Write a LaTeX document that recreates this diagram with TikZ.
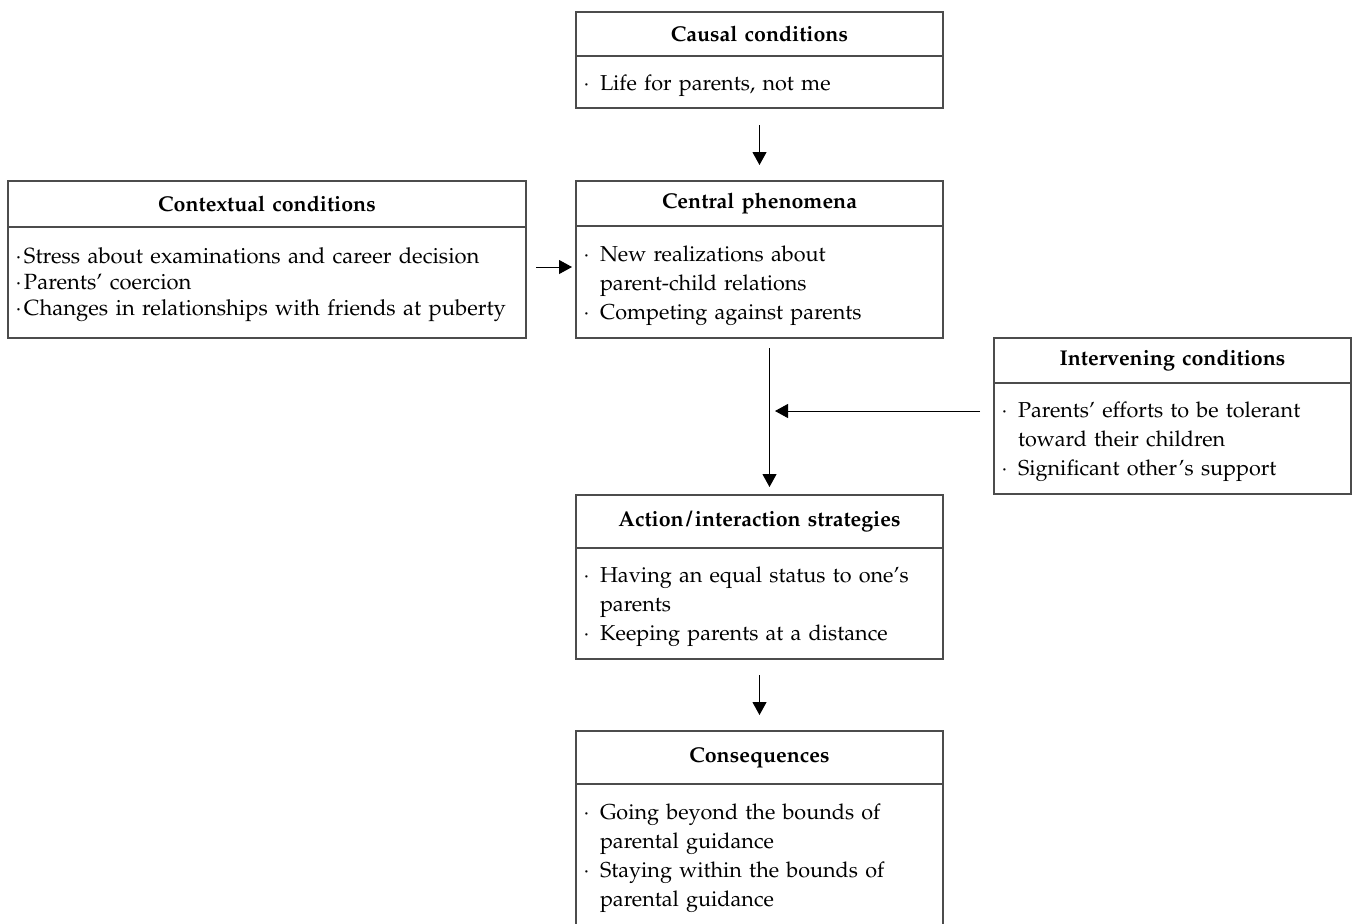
\documentclass[tikz,border=0pt]{standalone}
\usepackage[T1]{fontenc}
\usepackage{mathpazo}
\usetikzlibrary{arrows.meta, positioning}
\newlength{\itmw}
\setlength{\itmw}{8.5pt}
\tikzstyle{headbox} = [rectangle, draw=black!70, line width=0.6pt, outer sep=0pt, inner sep=0pt, align=center, font=\fontsize{10.7}{12}\selectfont\bfseries]
\tikzstyle{bodybox} = [rectangle, draw=black!70, line width=0.6pt, outer sep=0pt, inner xsep=3.5pt, inner ysep=0pt, align=left, font=\fontsize{10.8}{14.5}\selectfont]
\tikzstyle{widebody} = [bodybox, font=\fontsize{11}{13}\selectfont\setlength{\itmw}{4.5pt}]
\tikzstyle{connector} = [line width=0.5pt, -{Triangle[length=6.5pt,width=7pt]}]
\newcommand{\itm}{\par\noindent\hangindent=\itmw\hangafter=1\makebox[\itmw][l]{$\cdot$}}
\newcommand{\itmend}{\rule[-6.5pt]{0pt}{1pt}\par}
\newcommand{\nl}{\break}

\begin{document}
\begin{tikzpicture}[x=0.5pt, y=-0.5pt, node distance=0pt]
  \useasboundingbox (0,0) rectangle (1355,923);

  % Causal conditions
  \node (causalhead) at (576,12) [headbox, anchor=north west, text width=183.5pt, minimum height=22pt] {Causal conditions};
  \node (causal) [bodybox, below=of causalhead, text width=176.5pt, minimum height=26pt] {\itm Life for parents, not me\itmend};

  % Central phenomena
  \node (centralhead) at (576,181) [headbox, anchor=north west, text width=183.5pt, minimum height=22.5pt] {Central phenomena};
  \node (central) [bodybox, below=of centralhead, text width=176.5pt, minimum height=56pt] {\itm New realizations about\nl parent-child relations\itm Competing against parents\itmend};

  % Contextual conditions
  \node (contexthead) at (8,181) [headbox, anchor=north west, text width=259pt, minimum height=23pt] {Contextual conditions};
  \node (context) [widebody, below=of contexthead, text width=252pt, minimum height=55.5pt] {\itm Stress about examinations and career decision\itm Parents' coercion\itm Changes in relationships with friends at puberty\itmend};

  % Intervening conditions
  \node (intervhead) at (994,338) [headbox, anchor=north west, text width=178.5pt, minimum height=22.5pt] {Intervening conditions};
  \node (interv) [bodybox, below=of intervhead, text width=171.5pt, minimum height=55.5pt] {\itm Parents' efforts to be tolerant\nl toward their children\itm Significant other's support\itmend};

  % Action/interaction strategies
  \node (actionhead) at (576,495) [headbox, anchor=north west, text width=183.5pt, minimum height=26.5pt] {Action\kern1.2pt/\kern1.2pt interaction strategies};
  \node (action) [bodybox, below=of actionhead, text width=176.5pt, minimum height=55.5pt] {\itm Having an equal status to one's\nl parents\itm Keeping parents at a distance\itmend};

  % Consequences
  \node (conshead) at (576,731) [headbox, anchor=north west, text width=183.5pt, minimum height=26.5pt] {Consequences};
  \node (cons) [bodybox, below=of conshead, text width=176.5pt, minimum height=71pt] {\itm Going beyond the bounds of\nl parental guidance\itm Staying within the bounds of\nl parental guidance\itmend};

  \coordinate (ctxlevel) at (0,267);
  \coordinate (join) at (769,411);

  % Arrows
  \draw[connector, shorten <=8.5pt, shorten >=8pt] (causal) -- (centralhead);
  \draw[connector, shorten <=5pt, shorten >=2pt] (ctxlevel -| context.east) -- (ctxlevel -| central.west);
  \draw[connector, shorten <=5pt, shorten >=4pt] ([xshift=5pt]central.south) -- ([xshift=5pt]actionhead.north);
  \draw[connector, shorten <=7pt, shorten >=3pt] (join -| interv.west) -- (join);
  \draw[connector, shorten <=8pt, shorten >=8pt] (action) -- (conshead);

\end{tikzpicture}
\end{document}
